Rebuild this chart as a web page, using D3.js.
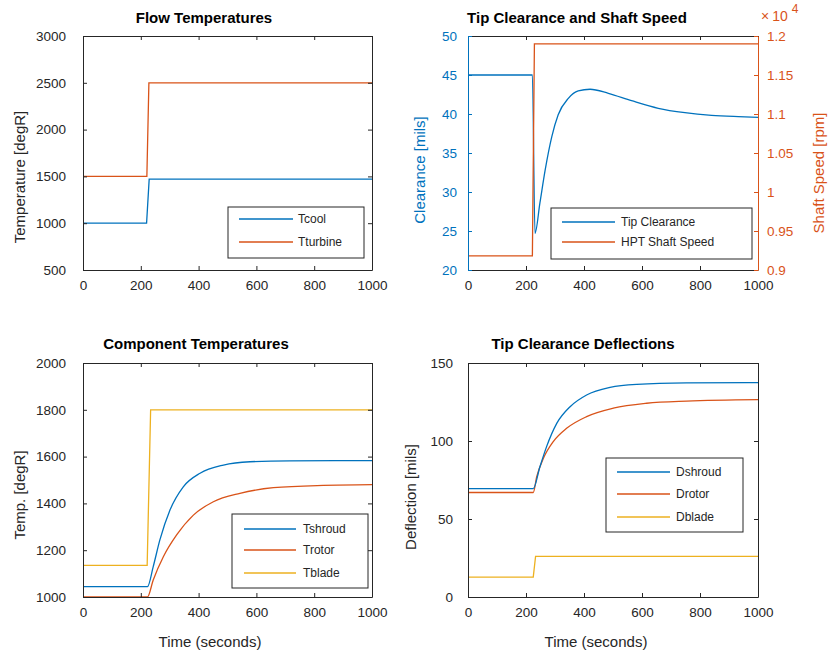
<!DOCTYPE html>
<html><head><meta charset="utf-8">
<script src="https://cdn.jsdelivr.net/npm/d3@7"></script>
<style>
body{margin:0;background:#fff}
text{font-family:"Liberation Sans",Arial,Helvetica,sans-serif;fill:#262626}
</style>
</head><body>
<svg id="c" width="828" height="652"></svg>
<script>
// ---------- data ----------
const xTicks = [0, 200, 400, 600, 800, 1000];

// Flow temperatures
const tcoolTime = [0, 220, 229, 1000];
const tcool = [1000, 1000, 1470, 1470];
const tturbTime = [0, 221, 228, 1000];
const tturbine = [1500, 1500, 2500, 2500];
const flowTicks = [500, 1000, 1500, 2000, 2500, 3000];

// Tip clearance & shaft speed
const clearTime = [0, 222, 231, 248, 266, 289, 311, 346, 380, 421, 484, 564, 656, 748, 840, 932, 1000];
const tipClearance = [45, 45, 24.7, 28.6, 32.8, 37.1, 39.9, 42.0, 42.95, 43.17, 42.65, 41.7, 40.73, 40.17, 39.83, 39.66, 39.57];
const shaftTime = [0, 222, 229, 1000];
const shaftSpeed = [9180, 9180, 11900, 11900];
const clearTicks = [20, 25, 30, 35, 40, 45, 50];
const speedTicks = [0.9, 0.95, 1, 1.05, 1.1, 1.15, 1.2]; // x 10^4 rpm

// Component temperatures
const tshroudTime = [0, 223, 243, 266, 301, 347, 405, 486, 578, 716, 1000];
const tshroud = [1044, 1044, 1130, 1244, 1372, 1471, 1529, 1564, 1578, 1582, 1583];
const trotorTime = [0, 223, 243, 278, 324, 382, 451, 543, 659, 831, 1000];
const trotor = [1000, 1000, 1073, 1172, 1265, 1350, 1407, 1443, 1467, 1477, 1480];
const tbladeTime = [0, 222, 234, 1000];
const tblade = [1135, 1135, 1800, 1800];
const compTicks = [1000, 1200, 1400, 1600, 1800, 2000];

// Tip clearance deflections
const dshroudTime = [0, 225, 248, 271, 306, 352, 409, 490, 582, 754, 1000];
const dshroud = [69.5, 69.5, 83.5, 96.4, 111.3, 122, 129.5, 134.4, 136.3, 137.2, 137.4];
const drotorTime = [0, 225, 237, 260, 294, 340, 409, 501, 616, 754, 1000];
const drotor = [67, 67, 77.1, 88.9, 99.6, 108.1, 115.6, 121, 124.2, 125.6, 126.5];
const dbladeTime = [0, 225, 233, 1000];
const dblade = [12.8, 12.8, 26, 26];
const deflTicks = [0, 50, 100, 150];

// ---------- drawing ----------
const BLUE = "#0072BD", ORANGE = "#D95319", YELLOW = "#EDB120", INK = "#262626";
const svg = d3.select("#c");
let clipId = 0;

function styleAxis(sel, color) {
  sel.selectAll("path.domain").attr("stroke", color).attr("stroke-width", 1);
  sel.selectAll(".tick line").attr("stroke", color);
  sel.selectAll(".tick text").style("fill", color).attr("font-size", 13.5).attr("font-family", null);
}

function panel(cfg) {
  const x = d3.scaleLinear().domain([0, 1000]).range([cfg.x0, cfg.x1]);
  const y = d3.scaleLinear().domain(cfg.yDomain).range([cfg.y1, cfg.y0]);
  const g = svg.append("g");
  const id = "clip" + (clipId++);
  svg.append("clipPath").attr("id", id).append("rect")
    .attr("x", cfg.x0).attr("y", cfg.y0 - 1).attr("width", cfg.x1 - cfg.x0).attr("height", cfg.y1 - cfg.y0 + 2);
  const lines = g.append("g").attr("clip-path", `url(#${id})`);

  // axes
  g.append("g").attr("transform", `translate(0,${cfg.y1})`)
    .call(d3.axisBottom(x).tickValues(xTicks).tickSize(-4).tickSizeOuter(0).tickPadding(10).tickFormat(d3.format("d")))
    .call(s => styleAxis(s, INK));
  g.append("g").attr("transform", `translate(0,${cfg.y0})`)
    .call(d3.axisTop(x).tickValues(xTicks).tickSize(-4).tickSizeOuter(0).tickFormat(""))
    .call(s => styleAxis(s, INK));
  const lc = cfg.leftColor || INK;
  g.append("g").attr("transform", `translate(${cfg.x0},0)`)
    .call(d3.axisLeft(y).tickValues(cfg.yTicks).tickSize(-4).tickSizeOuter(0).tickPadding(cfg.yPad)
      .tickFormat(d3.format("d")))
    .call(s => styleAxis(s, lc));
  if (!cfg.noRight) {
    g.append("g").attr("transform", `translate(${cfg.x1},0)`)
      .call(d3.axisRight(y).tickValues(cfg.yTicks).tickSize(-4).tickSizeOuter(0).tickFormat(""))
      .call(s => styleAxis(s, INK));
  }
  // title
  g.append("text").attr("x", cfg.titleX).attr("y", cfg.titleY).attr("text-anchor", "middle")
    .attr("font-size", 15).attr("font-weight", "bold").style("fill", "#000").text(cfg.title);
  // y label
  g.append("text").attr("transform", `translate(${cfg.ylabX},${cfg.ylabY}) rotate(-90)`)
    .attr("text-anchor", "middle").attr("dominant-baseline", "central")
    .attr("font-size", 15).style("fill", lc).text(cfg.ylabel);
  if (cfg.xlabel) {
    g.append("text").attr("x", cfg.xlabX).attr("y", cfg.xlabY).attr("text-anchor", "middle")
      .attr("font-size", 15).text(cfg.xlabel);
  }
  return {x, y, g, lines};
}

function drawLine(p, ys, xs, vals, color, curve) {
  const data = xs.map((t, i) => [t, vals[i]]);
  p.lines.append("path").datum(data)
    .attr("fill", "none").attr("stroke", color).attr("stroke-width", 1.3)
    .attr("d", d3.line().x(d => p.x(d[0])).y(d => ys(d[1])).curve(curve || d3.curveLinear));
}

function legend(p, box, items) {
  const g = p.g.append("g");
  g.append("rect").attr("x", box.x).attr("y", box.y).attr("width", box.w).attr("height", box.h)
    .attr("fill", "#fff").attr("stroke", INK).attr("stroke-width", 1);
  items.forEach(it => {
    g.append("line").attr("x1", box.lx0).attr("x2", box.lx1).attr("y1", it.y).attr("y2", it.y)
      .attr("stroke", it.color).attr("stroke-width", 1.3);
    g.append("text").attr("x", box.tx).attr("y", it.y).attr("dominant-baseline", "central")
      .attr("font-size", 12).text(it.label);
  });
}

// Panel 1
const p1 = panel({x0: 83, x1: 372, y0: 36, y1: 270, yDomain: [500, 3000], yTicks: flowTicks, yPad: 17,
  title: "Flow Temperatures", titleX: 204, titleY: 23, ylabel: "Temperature [degR]", ylabX: 19, ylabY: 177});
drawLine(p1, p1.y, tcoolTime, tcool, BLUE);
drawLine(p1, p1.y, tturbTime, tturbine, ORANGE);
legend(p1, {x: 228, y: 207, w: 136, h: 51, lx0: 239, lx1: 293, tx: 298},
  [{label: "Tcool", color: BLUE, y: 219}, {label: "Tturbine", color: ORANGE, y: 242}]);

// Panel 2
const p2 = panel({x0: 468, x1: 758, y0: 36, y1: 270, yDomain: [20, 50], yTicks: clearTicks, yPad: 11,
  leftColor: BLUE, noRight: true,
  title: "Tip Clearance and Shaft Speed", titleX: 577, titleY: 23, ylabel: "Clearance [mils]", ylabX: 419, ylabY: 170});
const y2r = d3.scaleLinear().domain([0.9, 1.2]).range([270, 36]);
p2.g.append("g").attr("transform", "translate(758,0)")
  .call(d3.axisRight(y2r).tickValues(speedTicks).tickSize(-4).tickSizeOuter(0).tickPadding(9)
    .tickFormat(d => d3.format("~g")(d)))
  .call(s => styleAxis(s, ORANGE));
p2.g.append("text").attr("transform", "translate(818,173) rotate(-90)")
  .attr("text-anchor", "middle").attr("dominant-baseline", "central")
  .attr("font-size", 15).style("fill", ORANGE).text("Shaft Speed [rpm]");
const expo = p2.g.append("text").attr("x", 761).attr("y", 21).attr("font-size", 14).style("fill", ORANGE);
expo.append("tspan").text("×");
expo.append("tspan").attr("dx", 3).text("10");
expo.append("tspan").attr("dx", 4).attr("dy", -8).attr("font-size", 12).text("4");
drawLine(p2, p2.y, clearTime, tipClearance, BLUE, d3.curveMonotoneX);
drawLine(p2, v => y2r(v / 10000), shaftTime, shaftSpeed, ORANGE);
legend(p2, {x: 551, y: 208, w: 201, h: 51, lx0: 562, lx1: 615, tx: 621},
  [{label: "Tip Clearance", color: BLUE, y: 222}, {label: "HPT Shaft Speed", color: ORANGE, y: 242}]);

// Panel 3
const p3 = panel({x0: 83, x1: 372, y0: 363, y1: 597, yDomain: [1000, 2000], yTicks: compTicks, yPad: 17,
  title: "Component Temperatures", titleX: 196, titleY: 349, ylabel: "Temp. [degR]", ylabX: 19, ylabY: 495,
  xlabel: "Time (seconds)", xlabX: 210, xlabY: 647});
drawLine(p3, p3.y, tbladeTime, tblade, YELLOW);
drawLine(p3, p3.y, tshroudTime, tshroud, BLUE, d3.curveMonotoneX);
drawLine(p3, p3.y, trotorTime, trotor, ORANGE, d3.curveMonotoneX);
legend(p3, {x: 232, y: 514, w: 136, h: 74, lx0: 244, lx1: 296, tx: 303},
  [{label: "Tshroud", color: BLUE, y: 529}, {label: "Trotor", color: ORANGE, y: 550}, {label: "Tblade", color: YELLOW, y: 573}]);

// Panel 4
const p4 = panel({x0: 468, x1: 758, y0: 363, y1: 597, yDomain: [0, 150], yTicks: deflTicks, yPad: 15,
  title: "Tip Clearance Deflections", titleX: 583, titleY: 349, ylabel: "Deflection [mils]", ylabX: 410, ylabY: 497,
  xlabel: "Time (seconds)", xlabX: 596, xlabY: 647});
drawLine(p4, p4.y, dbladeTime, dblade, YELLOW);
drawLine(p4, p4.y, drotorTime, drotor, ORANGE, d3.curveMonotoneX);
drawLine(p4, p4.y, dshroudTime, dshroud, BLUE, d3.curveMonotoneX);
legend(p4, {x: 606, y: 458, w: 137, h: 74, lx0: 617, lx1: 670, tx: 676},
  [{label: "Dshroud", color: BLUE, y: 472}, {label: "Drotor", color: ORANGE, y: 494}, {label: "Dblade", color: YELLOW, y: 517}]);
</script>
</body></html>
